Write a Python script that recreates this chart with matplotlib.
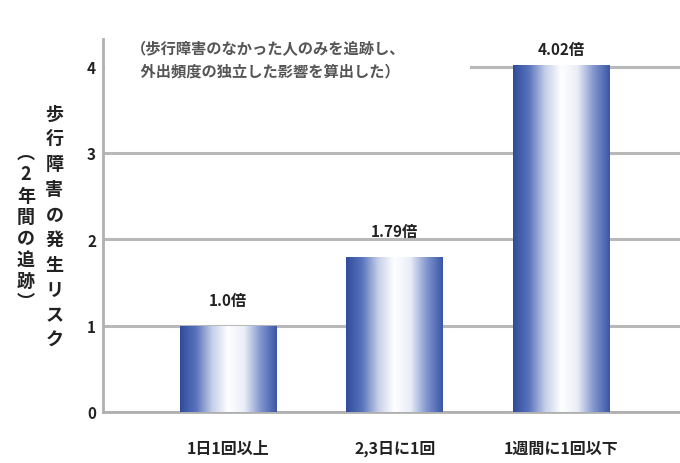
import numpy as np
import matplotlib
matplotlib.use('Agg')
import matplotlib.pyplot as plt
from matplotlib.colors import LinearSegmentedColormap
from matplotlib.patches import Rectangle

plt.rcParams['font.family'] = ['Noto Sans CJK JP', 'DejaVu Sans']

categories = ['1日1回以上', '2,3日に1回', '1週間に1回以下']
values = [1.0, 1.79, 4.02]
value_labels = ['1.0倍', '1.79倍', '4.02倍']
yticks = [0, 1, 2, 3, 4]
ylabel_main = '歩行障害の発生リスク'
ylabel_sub = '︵2年間の追跡︶'
note = '（歩行障害のなかった人のみを追跡し、\n 外出頻度の独立した影響を算出した）'

fig = plt.figure(figsize=(6.8, 4.64), dpi=100)
ax = fig.add_axes([0.1515, 0.11, 0.8485, 0.804])

# bar gradient: dark blue edges -> white centre
cmap = LinearSegmentedColormap.from_list(
    'bar', ['#2f4c9c', '#5a74bd', '#c5cfe8', '#ffffff', '#e9edf7', '#8296cf', '#3a56a6'])
grad = np.linspace(0, 1, 256).reshape(1, -1)

width = 0.58
x = np.arange(len(categories))
bars = ax.bar(x, values, width=width, color='none', edgecolor='none', zorder=3)
for b in bars:
    x0, y0 = b.get_x(), b.get_y()
    w, h = b.get_width(), b.get_height()
    im = ax.imshow(grad, aspect='auto', cmap=cmap,
                   extent=[x0, x0 + w, y0, y0 + h], zorder=3)
    im.set_clip_path(b)

for xi, v, lab in zip(x, values, value_labels):
    ax.text(xi, min(v + 0.3, 4.2), lab, ha='center', va='center', fontsize=11,
            fontweight='bold', color='#222222', zorder=5)

ax.set_xlim(-0.75, 2.71)
ax.set_ylim(0, 4.32)
ax.set_yticks(yticks)
ax.set_yticklabels([str(t) for t in yticks], fontsize=11, fontweight='bold', color='#222222')
ax.set_xticks(x)
ax.set_xticklabels(categories, fontsize=11.5, fontweight='bold', color='#222222')
ax.tick_params(axis='both', length=0)
ax.tick_params(axis='y', pad=5)
ax.tick_params(axis='x', pad=20)

ax.grid(axis='y', color='#b8b8b8', linewidth=2.2, zorder=1)
ax.set_axisbelow(True)
for s in ['top', 'right']:
    ax.spines[s].set_visible(False)
for s in ['left', 'bottom']:
    ax.spines[s].set_color('#b0b0b0')
    ax.spines[s].set_linewidth(2)

# white box behind the note (hides the top gridline on the left)
ax.add_patch(Rectangle((0.004, 0.865), 0.632, 0.135, transform=ax.transAxes,
                       facecolor='white', edgecolor='none', zorder=2))
ax.text(0.286, 0.946, note, transform=ax.transAxes, ha='center', va='center',
        fontsize=11, fontweight='bold', color='#555555', linespacing=1.45,
        zorder=4)

# vertical y label in two columns, one character per line
def vertical_text(s, xc, ytop, pitch):
    for i, ch in enumerate(s):
        fig.text(xc, 1 - (ytop + pitch * (i + 0.5)) / 464, ch, ha='center', va='center',
                 fontsize=13, fontweight='bold', color='#222222')

vertical_text(ylabel_main, 0.080, 102, 25.1)
vertical_text(ylabel_sub, 0.038, 143, 21.3)

fig.savefig('out.png', dpi=100)
